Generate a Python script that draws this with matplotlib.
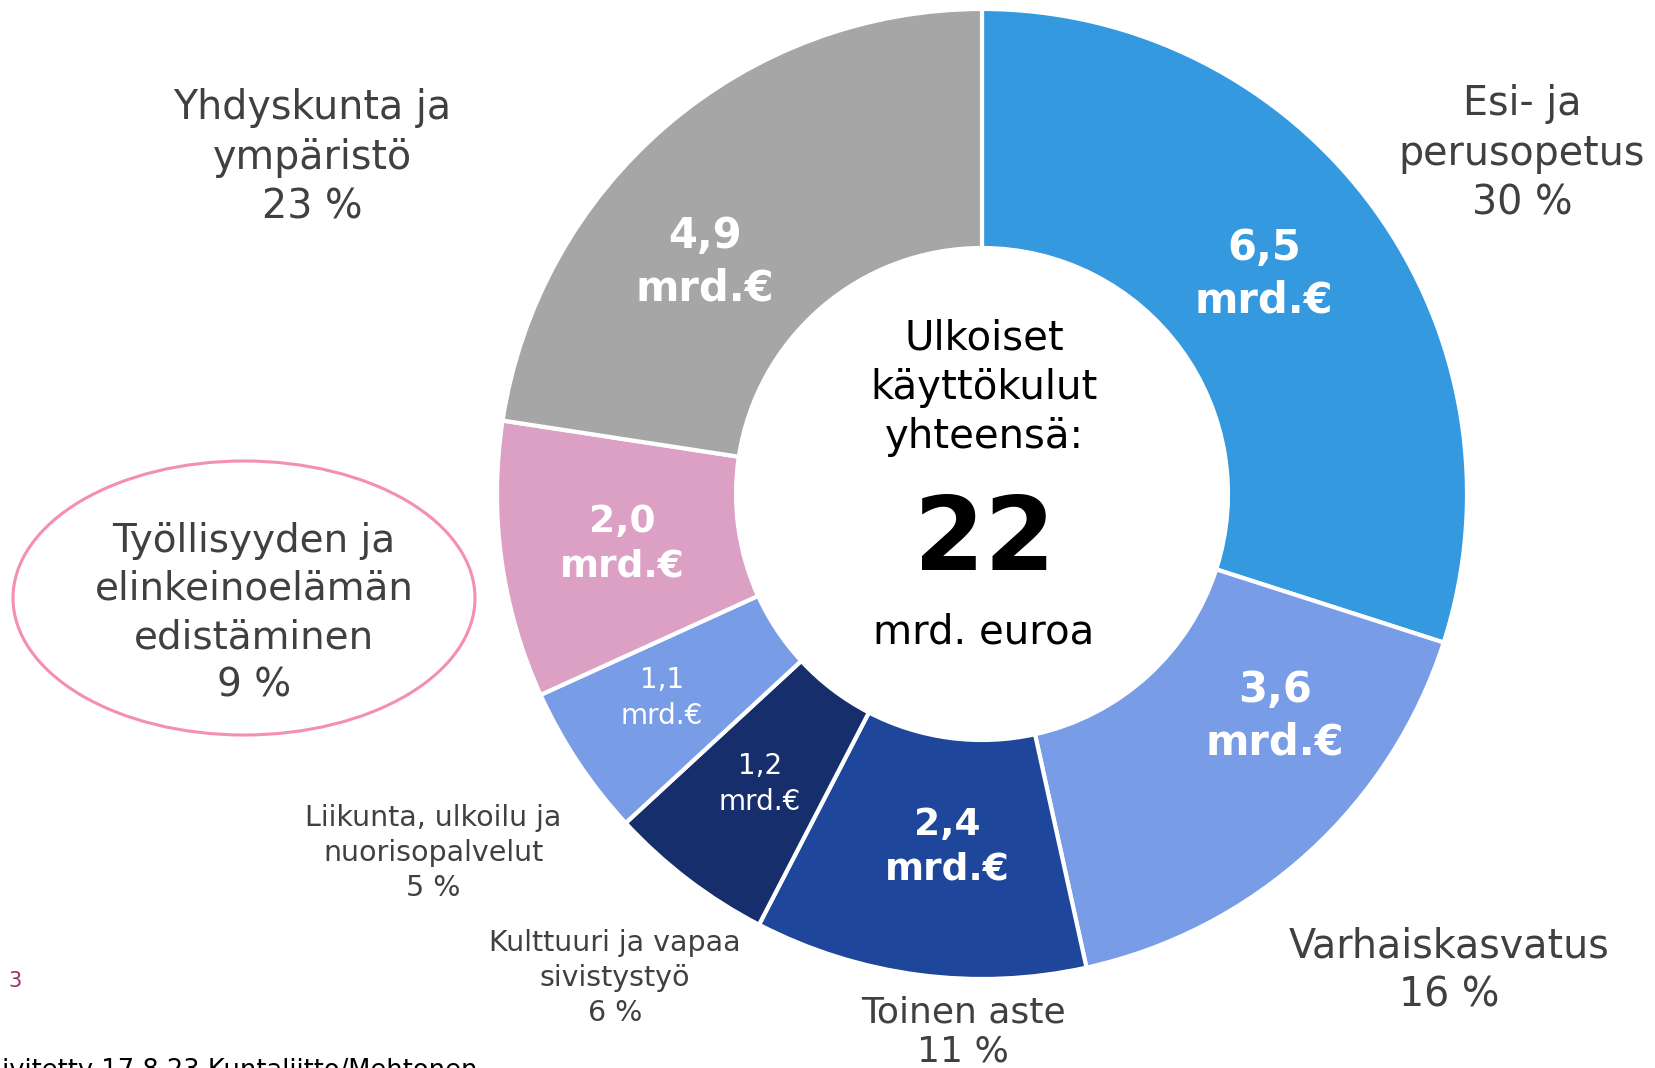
import matplotlib
matplotlib.use("Agg")
import matplotlib.pyplot as plt
from matplotlib.patches import Ellipse

# ---- data ----
categories = ["Esi- ja\nperusopetus", "Varhaiskasvatus", "Toinen aste",
              "Kulttuuri ja vapaa\nsivistystyö", "Liikunta, ulkoilu ja\nnuorisopalvelut",
              "Työllisyyden ja\nelinkeinoelämän\nedistäminen", "Yhdyskunta ja\nympäristö"]
values = [6.5, 3.6, 2.4, 1.2, 1.1, 2.0, 4.9]
percents = [30, 16, 11, 6, 5, 9, 23]
value_labels = ["6,5\nmrd.€", "3,6\nmrd.€", "2,4\nmrd.€", "1,2\nmrd.€", "1,1\nmrd.€", "2,0\nmrd.€", "4,9\nmrd.€"]
colors = ["#3499DE", "#789CE6", "#1E479C", "#162E6B", "#789CE6", "#DCA0C4", "#A6A6A6"]
center_title = "Ulkoiset\nkäyttökulut\nyhteensä:"
center_total = "22"
center_unit = "mrd. euroa"
footnote = "Päivitetty 17.8.23 Kuntaliitto/Mehtonen"
page_no = "3"

FONT = "DejaVu Sans"
W, H = 1655, 1068
fig = plt.figure(figsize=(W / 100, H / 100), dpi=100)
ax = fig.add_axes([0, 0, 1, 1])

def Y(y):
    return H - y

cx, cy = 982, Y(494)
R_out, R_in = 485, 246
ax.pie(values, colors=colors, startangle=90, counterclock=False,
       center=(cx, cy), radius=R_out, frame=True,
       wedgeprops=dict(width=R_out - R_in, edgecolor="white", linewidth=3))
ax.set_xlim(0, W)
ax.set_ylim(0, H)
ax.set_aspect("equal")
ax.axis("off")

# wedge value labels (positions, size, weight)
vl_pos = [(1264, 274), (1275, 716), (947, 847), (760, 784), (662, 698), (622, 544), (705, 262)]
vl_size = [30, 30, 27, 20, 20, 27, 30]
vl_weight = ["bold", "bold", "bold", "normal", "normal", "bold", "bold"]
for (x, y), s, w, t in zip(vl_pos, vl_size, vl_weight, value_labels):
    ax.text(x, Y(y), t, ha="center", va="center", color="white", fontsize=s,
            fontweight=w, family=FONT, linespacing=1.32)

# outer category labels
lab_pos = [(1522, 154), (1449, 971), (963, 1032), (615, 978), (433, 853), (254, 613), (312, 158)]
lab_size = [28.5, 28.5, 26, 20.5, 20.5, 28, 28.5]
lab_ls = [1.32, 1.32, 1.22, 1.33, 1.32, 1.34, 1.32]
for (x, y), s, ls, c, p in zip(lab_pos, lab_size, lab_ls, categories, percents):
    ax.text(x, Y(y), f"{c}\n{p} %", ha="center", va="center", color="#404040",
            fontsize=s, family=FONT, linespacing=ls)

# ellipse around highlighted label
ax.add_patch(Ellipse((244, Y(598)), 462, 274, fill=False, edgecolor="#F58FAE", linewidth=2.2))

# center texts
ax.text(984, Y(388), center_title, ha="center", va="center", color="black",
        fontsize=29, family=FONT, linespacing=1.3)
ax.text(984, Y(542), center_total, ha="center", va="center", color="black",
        fontsize=73, fontweight="bold", family=FONT)
ax.text(984, Y(633), center_unit, ha="center", va="center", color="black",
        fontsize=29, family=FONT)

# page number and footnote
ax.text(8, Y(981), page_no, ha="left", va="center", color="#9E2F6B", fontsize=15, family=FONT)
ax.text(478, Y(1078), footnote, ha="right", va="baseline", color="black", fontsize=18.5, family=FONT)

fig.savefig("out.png", dpi=100)
